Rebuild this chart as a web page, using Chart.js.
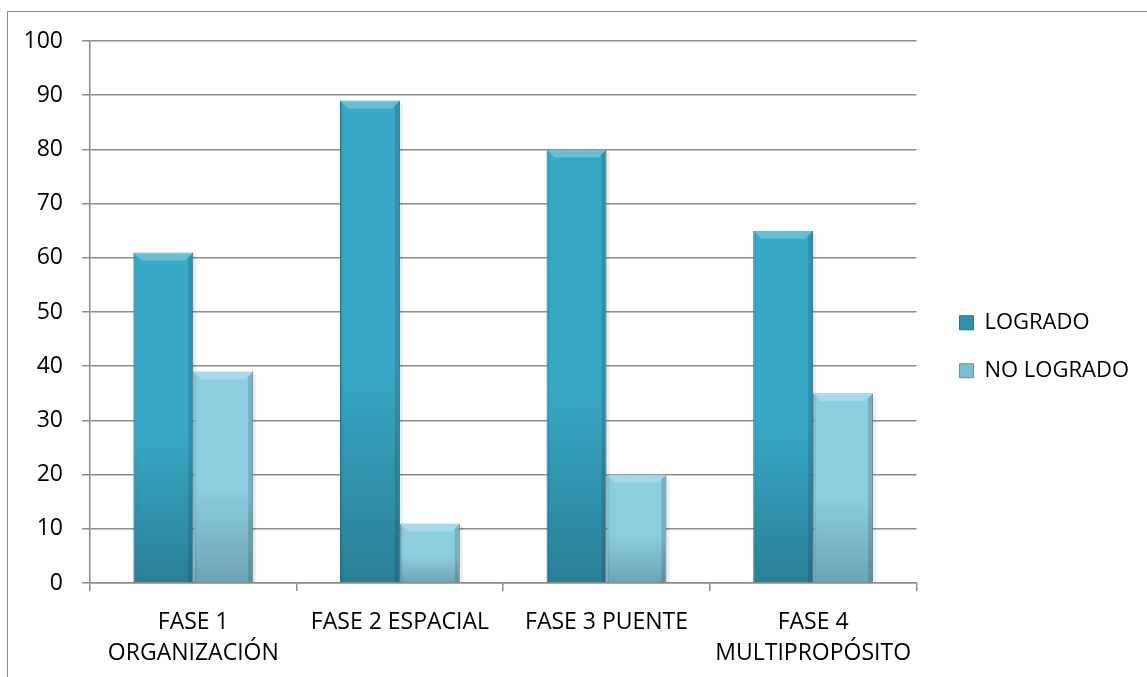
<!DOCTYPE html>
<html>
<head>
<meta charset="utf-8">
<script src="https://cdn.jsdelivr.net/npm/chart.js@4.4.0/dist/chart.umd.min.js"></script>
<style>
html, body { margin: 0; padding: 0; background: #fff; overflow: hidden; }
#marco { position: absolute; left: 7px; top: 11px; width: 1200px; height: 700px; border: 1px solid #8c8c8c; }
#caja { position: absolute; left: 0; top: 0; width: 1147px; height: 677px; }
</style>
</head>
<body>
<div id="marco"></div>
<div id="caja"><canvas id="grafico"></canvas></div>
<script>
// datos
var fases = [['FASE 1', 'ORGANIZACIÓN'], 'FASE 2 ESPACIAL', 'FASE 3 PUENTE', ['FASE 4', 'MULTIPROPÓSITO']];
var logrado = [61, 89, 80, 65];
var noLogrado = [39, 11, 20, 35];
var yMin = 0, yMax = 100, yPaso = 10;

var fuente = 'Open Sans';
var gris = '#8c8c8c';

// degradado vertical por barra (arriba claro, abajo oscuro)
function relleno(arriba, abajo) {
    return function(context) {
        var chart = context.chart;
        if (!chart.chartArea || context.type !== 'data') return arriba;
        var ys = chart.scales.y;
        var yTop = ys.getPixelForValue(context.raw);
        var yBase = ys.getPixelForValue(0);
        var g = chart.ctx.createLinearGradient(0, yTop, 0, yBase);
        g.addColorStop(0, arriba);
        g.addColorStop(0.55, arriba);
        g.addColorStop(1, abajo);
        return g;
    };
}

// bisel y sombra de las barras
var biselPlugin = {
    id: 'bisel',
    beforeDatasetsDraw: function(chart) {
        var c = chart.ctx;
        chart.data.datasets.forEach(function(ds, i) {
            chart.getDatasetMeta(i).data.forEach(function(bar) {
                var p = bar.getProps(['x', 'y', 'base', 'width'], true);
                var r = p.x + p.width / 2;
                c.save();
                c.fillStyle = 'rgba(0,0,0,0.07)';
                c.fillRect(r, p.y + 3, 3, p.base - p.y - 3);
                c.restore();
            });
        });
    },
    afterDatasetsDraw: function(chart) {
        var c = chart.ctx;
        chart.data.datasets.forEach(function(ds, i) {
            chart.getDatasetMeta(i).data.forEach(function(bar) {
                var p = bar.getProps(['x', 'y', 'base', 'width'], true);
                var l = p.x - p.width / 2, r = p.x + p.width / 2, y = p.y, b = 8;
                c.save();
                // borde superior claro
                c.fillStyle = 'rgba(255,255,255,0.25)';
                c.beginPath();
                c.moveTo(l, y); c.lineTo(r, y); c.lineTo(r - b, y + b); c.lineTo(l + b, y + b);
                c.closePath(); c.fill();
                // lado derecho oscuro
                c.fillStyle = 'rgba(0,30,50,0.16)';
                c.beginPath();
                c.moveTo(r, y); c.lineTo(r, p.base); c.lineTo(r - 5, p.base); c.lineTo(r - 5, y + 5);
                c.closePath(); c.fill();
                // lado izquierdo
                c.fillStyle = 'rgba(0,30,50,0.08)';
                c.beginPath();
                c.moveTo(l, y); c.lineTo(l + 3, y + 3); c.lineTo(l + 3, p.base); c.lineTo(l, p.base);
                c.closePath(); c.fill();
                c.restore();
            });
        });
    }
};

var ctx = document.getElementById('grafico');

new Chart(ctx, {
    type: 'bar',
    data: {
        labels: fases,
        datasets: [
            {
                label: 'LOGRADO',
                data: logrado,
                backgroundColor: relleno('#37a8c6', '#2a7f96'),
                borderColor: '#2a7a90',
                borderWidth: 1,
                categoryPercentage: 0.58,
                barPercentage: 1.0
            },
            {
                label: 'NO LOGRADO',
                data: noLogrado,
                backgroundColor: relleno('#8ccde0', '#6ca3b4'),
                borderColor: '#6a9cab',
                borderWidth: 1,
                categoryPercentage: 0.58,
                barPercentage: 1.0
            }
        ]
    },
    options: {
        responsive: true,
        maintainAspectRatio: false,
        animation: false,
        layout: {
            padding: { left: 20, top: 24, right: 8, bottom: 7.5 }
        },
        plugins: {
            tooltip: { enabled: false },
            legend: {
                position: 'right',
                maxWidth: 320,
                labels: {
                    color: '#000',
                    boxWidth: 14,
                    boxHeight: 14,
                    padding: 26,
                    font: { family: fuente, size: 22 },
                    generateLabels: function(chart) {
                        var items = Chart.defaults.plugins.legend.labels.generateLabels(chart);
                        var colores = ['#2f93ae', '#7fbdd0'];
                        var bordes = ['#22708a', '#5f93a3'];
                        items.forEach(function(it, k) {
                            it.fillStyle = colores[k];
                            it.strokeStyle = bordes[k];
                            it.lineWidth = 1;
                        });
                        return items;
                    }
                }
            }
        },
        scales: {
            x: {
                grid: {
                    offset: true,
                    drawOnChartArea: false,
                    drawTicks: true,
                    tickLength: 8,
                    color: gris,
                    lineWidth: 1.5
                },
                border: { display: true, color: gris, width: 1.5 },
                ticks: {
                    color: '#000',
                    padding: 16,
                    maxRotation: 0,
                    autoSkip: false,
                    font: { family: fuente, size: 23, lineHeight: 1.35 }
                },
                afterFit: function(scale) { scale.height = 86.5; }
            },
            y: {
                min: yMin,
                max: yMax,
                grid: {
                    color: gris,
                    lineWidth: 1.5,
                    drawTicks: true,
                    tickLength: 8
                },
                border: { display: true, color: gris, width: 1.5 },
                ticks: {
                    stepSize: yPaso,
                    color: '#000',
                    padding: 19,
                    font: { family: fuente, size: 23 }
                },
                afterFit: function(scale) {
                    scale.width = 70;
                    scale.paddingTop = 41;
                }
            },
            relleno: {
                type: 'linear',
                position: 'right',
                display: true,
                grid: { display: false },
                border: { display: false },
                ticks: { display: false },
                afterFit: function(scale) { scale.width = 17; }
            }
        }
    },
    plugins: [biselPlugin]
});
</script>
</body>
</html>
